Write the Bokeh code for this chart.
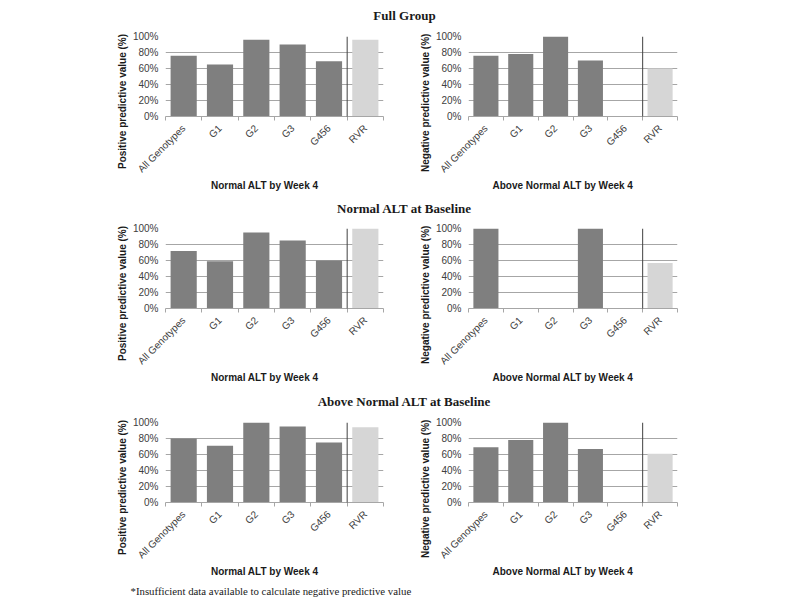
import math
from bokeh.plotting import figure
from bokeh.layouts import column, row
from bokeh.models import Range1d, FixedTicker, Label, Arrow, Title
from bokeh.embed import file_html
from bokeh.resources import INLINE

# ---------------- data ----------------
categories = ["All Genotypes", "G1", "G2", "G3", "G456", "RVR"]
y_ticks = [0, 20, 40, 60, 80, 100]
y_tick_labels = ["0%", "20%", "40%", "60%", "80%", "100%"]

row_titles = ["Full Group", "Normal ALT at Baseline", "Above Normal ALT at Baseline"]
ppv_ylabel = "Positive predictive value (%)"
npv_ylabel = "Negative predictive value (%)"
ppv_xlabel = "Normal ALT by Week 4"
npv_xlabel = "Above Normal ALT by Week 4"
footnote = "*Insufficient data available to calculate negative predictive value"

nan = float("nan")
ppv_full = [76, 65, 96, 90, 69, 96]
npv_full = [76, 78, 100, 70, nan, 60]
ppv_normal_baseline = [72, 59, 95, 85, 60, 100]
npv_normal_baseline = [100, nan, nan, 100, nan, 57]
ppv_above_baseline = [80, 71, 100, 95, 75, 94]
npv_above_baseline = [69, 78, 100, 67, nan, 61]

# ---------------- style ----------------
DARK = "#7f7f7f"
LIGHT = "#d6d6d6"
GRID = "#a6a6a6"
TXT = "#404040"
LAB = "#1a1a1a"
SANS = "Liberation Sans"
SERIF = "Liberation Serif"
bar_colors = [DARK] * (len(categories) - 1) + [LIGHT]
PAGE_W = 796


def make_panel(values, ylab, xlab, left_side, bottom):
    if left_side:
        bl, fw, br = 165, 218, 29
        y_off, x_off = -52.5, 45.5
    else:
        bl, fw, br = 56, 209, 119
        y_off, x_off = -55.5, 24
    n = len(categories)
    p = figure(frame_width=fw, frame_height=80,
               min_border_left=bl, min_border_right=br,
               min_border_top=10, min_border_bottom=bottom,
               x_range=Range1d(0, n), y_range=Range1d(0, 100),
               output_backend="svg", toolbar_location=None, tools="")
    p.outline_line_color = None

    xs = [i + 0.5 for i in range(n)]
    p.vbar(x=xs, top=values, width=0.72, fill_color=bar_colors, line_color=None)

    p.xgrid.visible = False
    p.ygrid.ticker = FixedTicker(ticks=y_ticks)
    p.ygrid.grid_line_color = GRID
    p.ygrid.grid_line_width = 1

    ya = p.yaxis[0]
    ya.ticker = FixedTicker(ticks=y_ticks)
    ya.major_label_overrides = dict(zip(y_ticks, y_tick_labels))
    ya.axis_line_color = None
    ya.major_tick_line_color = None
    ya.minor_tick_line_color = None
    ya.major_tick_in = 0
    ya.major_tick_out = 0
    ya.major_label_standoff = 7
    ya.major_label_text_font = SANS
    ya.major_label_text_font_size = "10px"
    ya.major_label_text_color = TXT

    xa = p.xaxis[0]
    xa.ticker = FixedTicker(ticks=xs, minor_ticks=list(range(n + 1)))
    xa.major_label_overrides = dict(zip(xs, categories))
    xa.major_tick_line_color = None
    xa.major_tick_in = 0
    xa.major_tick_out = 0
    xa.minor_tick_in = 0
    xa.minor_tick_out = 4
    xa.minor_tick_line_color = GRID
    xa.axis_line_color = GRID
    xa.major_label_orientation = math.pi / 4
    xa.major_label_standoff = 6
    xa.major_label_text_font = SANS
    xa.major_label_text_font_size = "10px"
    xa.major_label_text_color = TXT

    # separator between genotypes and RVR
    p.add_layout(Arrow(start=None, end=None, x_start=n - 1, y_start=-34,
                       x_end=n - 1, y_end=100, line_color="#404040", line_width=1))

    p.add_layout(Title(text=ylab, align="left", offset=y_off, standoff=4,
                       text_font=SANS, text_font_style="bold", text_font_size="10px",
                       text_color=LAB), "left")
    p.add_layout(Title(text=xlab, align="left", offset=x_off, standoff=-4,
                       vertical_align="top",
                       text_font=SANS, text_font_style="bold", text_font_size="10px",
                       text_color=LAB), "below")
    return p


def make_text_fig(text, h, cx, from_top, font, style, size, align="center"):
    t = figure(width=PAGE_W, height=h, x_range=Range1d(0, PAGE_W), y_range=Range1d(0, h),
               min_border=0, x_axis_type=None, y_axis_type=None,
               output_backend="svg", toolbar_location=None, tools="")
    t.outline_line_color = None
    t.xgrid.visible = False
    t.ygrid.visible = False
    t.add_layout(Label(x=cx, y=h - from_top, text=text, text_align=align,
                       text_baseline="middle", text_font=font, text_font_style=style,
                       text_font_size=size, text_color=LAB))
    return t


t1 = make_text_fig(row_titles[0], 26, 404, 15, SERIF, "bold", "13px")
r1 = row(make_panel(ppv_full, ppv_ylabel, ppv_xlabel, True, 84),
         make_panel(npv_full, npv_ylabel, npv_xlabel, False, 84))
t2 = make_text_fig(row_titles[1], 18, 404, 8, SERIF, "bold", "13px")
r2 = row(make_panel(ppv_normal_baseline, ppv_ylabel, ppv_xlabel, True, 84),
         make_panel(npv_normal_baseline, npv_ylabel, npv_xlabel, False, 84))
t3 = make_text_fig(row_titles[2], 20, 404, 9, SERIF, "bold", "13px")
r3 = row(make_panel(ppv_above_baseline, ppv_ylabel, ppv_xlabel, True, 82),
         make_panel(npv_above_baseline, npv_ylabel, npv_xlabel, False, 82))
foot = make_text_fig(footnote, 16, 130, 6, SERIF, "normal", "10.8px", align="left")

layout = column(t1, r1, t2, r2, t3, r3, foot)

open("out.html", "w").write(file_html(layout, INLINE))
